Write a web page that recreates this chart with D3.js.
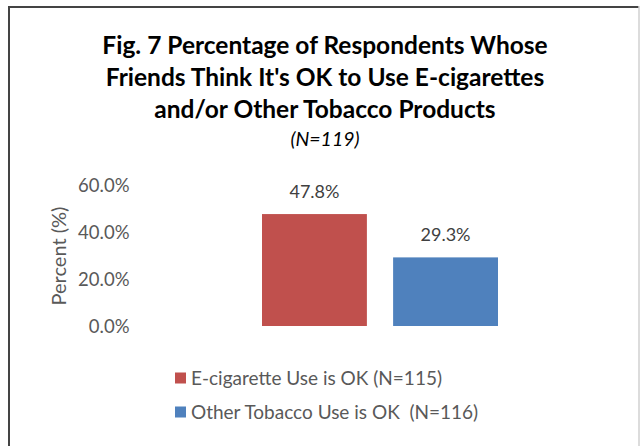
<!DOCTYPE html>
<html><head><meta charset="utf-8">
<script src="https://cdn.jsdelivr.net/npm/d3@7"></script>
<style>body{margin:0;background:#fff}svg{display:block}</style>
</head><body><svg id="c" width="640" height="446"></svg>
<script>
const titleLines = ["Fig. 7 Percentage of Respondents Whose", "Friends Think It's OK to Use E-cigarettes", "and/or Other Tobacco Products"];
const subtitle = "(N=119)";
const series = ["E-cigarette Use is OK (N=115)", "Other Tobacco Use is OK  (N=116)"];
const values = [47.8, 29.3];
const colors = ["#C0504D", "#4F81BD"];
const yTicks = [0, 20, 40, 60];
const yTitle = "Percent (%)";

const svg = d3.select("#c");
const font = "Lato, 'Open Sans', sans-serif";

// frame
svg.append("path").attr("d","M9,446 V7 H639").attr("fill","none").attr("stroke","#444").attr("stroke-width",2);
svg.append("line").attr("x1",639).attr("x2",639).attr("y1",6).attr("y2",446).attr("stroke","#d0d0d0").attr("stroke-width",1.5);

// title
titleLines.forEach((t,i)=>{
  svg.append("text").attr("x",325).attr("y",54+i*32).attr("text-anchor","middle")
    .attr("font-family",font).attr("font-weight","bold").attr("font-size",24.5).attr("fill","#000").text(t);
});
svg.append("text").attr("x",325).attr("y",146).attr("text-anchor","middle").attr("font-family",font)
  .attr("font-style","italic").attr("font-size",19.5).attr("fill","#000").text(subtitle);

const y = d3.scaleLinear().domain([0,60]).range([326,185.5]);
const x = d3.scaleBand().domain(series).range([262,498]).paddingInner(0.2).paddingOuter(0);

const yAxis = d3.axisLeft(y).tickValues(yTicks).tickFormat(d=>d3.format(".1f")(d)+"%").tickSize(0).tickPadding(0);
const ga = svg.append("g").attr("transform","translate(129.5,0)").call(yAxis);
ga.select(".domain").remove();
ga.selectAll("text").attr("font-family",font).attr("font-size",18.5).attr("fill","#595959").attr("dy","0.35em");

svg.append("text").attr("transform","translate(66,256) rotate(-90)").attr("text-anchor","middle")
  .attr("font-family",font).attr("font-size",20).attr("fill","#595959").text(yTitle);

svg.selectAll("rect.bar").data(values).enter().append("rect").attr("class","bar")
  .attr("x",(d,i)=>x(series[i])).attr("width",x.bandwidth())
  .attr("y",d=>y(d)).attr("height",d=>y(0)-y(d)).attr("fill",(d,i)=>colors[i]);

svg.selectAll("text.lbl").data(values).enter().append("text").attr("class","lbl")
  .attr("x",(d,i)=>x(series[i])+x.bandwidth()/2).attr("y",d=>y(d)-16).attr("text-anchor","middle")
  .attr("font-family",font).attr("font-size",18).attr("fill","#404040").text(d=>d.toFixed(1)+"%");

// legend
series.forEach((s,i)=>{
  const ly = 378 + i*34;
  svg.append("rect").attr("x",175).attr("y",ly-5.5).attr("width",11).attr("height",11).attr("fill",colors[i]);
  svg.append("text").attr("x",191).attr("y",ly).attr("dy","0.35em").attr("font-family",font)
    .attr("xml:space","preserve").style("white-space","pre")
    .attr("font-size",19).attr("fill","#595959").text(s);
});
</script></body></html>
